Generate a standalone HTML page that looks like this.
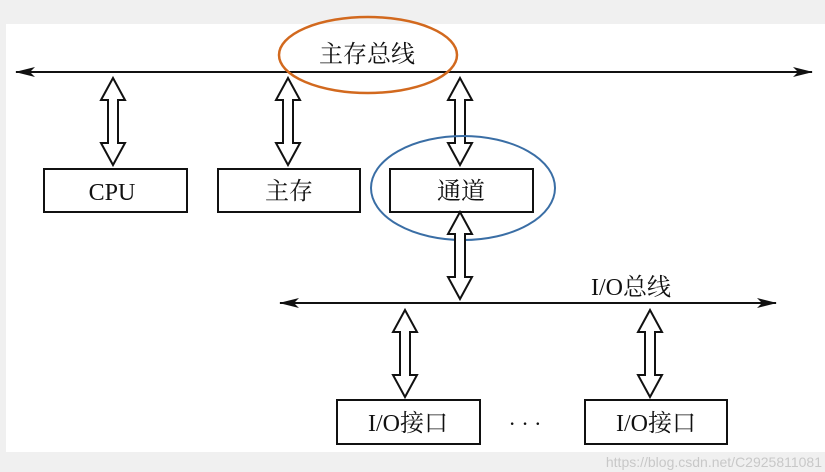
<!DOCTYPE html>
<html><head><meta charset="utf-8"><style>
html,body{margin:0;padding:0;background:#f0f0f0;}
svg{display:block;}
text{font-family:"Liberation Serif","Noto Serif CJK SC",serif;fill:#111;}
</style></head><body>
<svg width="825" height="472" viewBox="0 0 825 472" xmlns="http://www.w3.org/2000/svg">
<defs>
<marker id="ah" viewBox="0 0 20 10" refX="19" refY="5" markerWidth="20" markerHeight="10" markerUnits="userSpaceOnUse" orient="auto-start-reverse">
<path d="M0,0 L20,5 L0,10 L5,5 Z" fill="#111"/>
</marker>
<g id="dar">
<path d="M0,0 L12,22 L5,22 L5,65 L12,65 L0,87 L-12,65 L-5,65 L-5,22 L-12,22 Z" fill="#fff" stroke="#111" stroke-width="2"/>
</g>
</defs>
<rect x="6" y="24" width="819" height="428" fill="#fff"/>
<!-- top bus -->
<line x1="16" y1="72" x2="812" y2="72" stroke="#111" stroke-width="2" marker-start="url(#ah)" marker-end="url(#ah)"/>
<text x="367" y="62" font-size="24" text-anchor="middle">主存总线</text>
<ellipse cx="368" cy="55" rx="89" ry="38" fill="none" stroke="#d2691e" stroke-width="2.5"/>
<use href="#dar" x="113" y="78"/>
<use href="#dar" x="288" y="78"/>
<use href="#dar" x="460" y="78"/>
<rect x="44" y="169" width="143" height="43" fill="#fff" stroke="#111" stroke-width="2"/>
<rect x="218" y="169" width="142" height="43" fill="#fff" stroke="#111" stroke-width="2"/>
<rect x="390" y="169" width="143" height="43" fill="#fff" stroke="#111" stroke-width="2"/>
<text x="112" y="200" font-size="24" text-anchor="middle">CPU</text>
<text x="289" y="199" font-size="24" text-anchor="middle">主存</text>
<text x="461" y="199" font-size="24" text-anchor="middle">通道</text>
<ellipse cx="463" cy="188" rx="92" ry="52" fill="none" stroke="#3a6ea5" stroke-width="2"/>
<use href="#dar" x="460" y="212"/>
<!-- IO bus -->
<line x1="280" y1="303" x2="776" y2="303" stroke="#111" stroke-width="2" marker-start="url(#ah)" marker-end="url(#ah)"/>
<text x="631" y="295" font-size="24" text-anchor="middle">I/O总线</text>
<use href="#dar" x="405" y="310"/>
<use href="#dar" x="650" y="310"/>
<rect x="337" y="400" width="143" height="44" fill="#fff" stroke="#111" stroke-width="2"/>
<rect x="585" y="400" width="142" height="44" fill="#fff" stroke="#111" stroke-width="2"/>
<text x="408" y="431" font-size="24" text-anchor="middle">I/O接口</text>
<text x="656" y="431" font-size="24" text-anchor="middle">I/O接口</text>
<text x="525" y="431" font-size="22" text-anchor="middle">· · ·</text>
<rect x="0" y="452" width="825" height="20" fill="#f0f0f0"/>
<text x="822" y="467" font-size="14" text-anchor="end" style="font-family:'Liberation Sans',sans-serif;fill:#c8c8c8">https://blog.csdn.net/C2925811081</text>
</svg>
</body></html>
